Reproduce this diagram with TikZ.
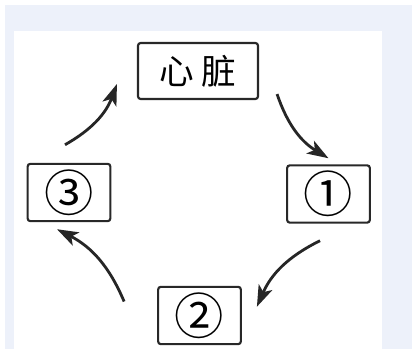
\documentclass[tikz,border=0pt]{standalone}
\usepackage{fontspec}
\newfontfamily\cjk{Noto Sans CJK SC}
\usetikzlibrary{arrows.meta}
\definecolor{panelblue}{RGB}{237,241,250}
\definecolor{boxline}{RGB}{40,40,40}
\tikzset{every picture/.style={line width=0.75pt}}
\tikzset{
  organbox/.style={draw=boxline, line width=1.6pt, rounded corners=2pt, minimum width=90pt, minimum height=42pt, inner sep=0pt, font=\cjk\fontsize{26}{28}\selectfont},
  numbox/.style={draw=boxline, line width=1.6pt, rounded corners=2pt, minimum width=62pt, minimum height=43pt, inner sep=0pt, font=\cjk\fontsize{37}{37}\selectfont},
  flow/.style={draw=black!85, line width=2.1pt, -{Stealth[length=16pt, width=11pt, inset=4pt]}}
}

\begin{document}
\begin{tikzpicture}[x=0.75pt,y=0.75pt,yscale=-1,xscale=1]
\useasboundingbox (0,0) rectangle (412,349);

%Background panels
\fill [white] (0,0) rectangle (412,349);
\fill [panelblue] (5,5) rectangle (412,349);
\fill [white] (14,31) rectangle (382,349);

% Boxes
\node [organbox] (heart) at (198,71) {心\hspace{5pt}脏};
\node [numbox] (one) at (328.5,194) {①};
\node [numbox] (two) at (199.5,315.5) {②};
\node [numbox] (three) at (69,192.5) {③};

% Arrow ends
\coordinate (a1) at ([shift={(18,-6)}]heart.south east);
\coordinate (b1) at ([shift={(0,-6)}]one.north);
\coordinate (a2) at ([shift={(-8.5,17)}]one.south);
\coordinate (b2) at ([shift={(15,21)}]two.north east);
\coordinate (a3) at ([shift={(-33,-14)}]two.west);
\coordinate (b3) at ([shift={(-12,7)}]three.south);
\coordinate (a4) at ([shift={(-4,-18)}]three.north);
\coordinate (b4) at ([shift={(-20,13)}]heart.west);

% Curved arrows
\draw [flow] (a1) to[bend left=20] (b1);
\draw [flow] (a2) to[bend left=20] (b2);
\draw [flow] (a3) to[bend left=20] (b3);
\draw [flow] (a4) to[bend left=20] (b4);

\end{tikzpicture}
\end{document}
